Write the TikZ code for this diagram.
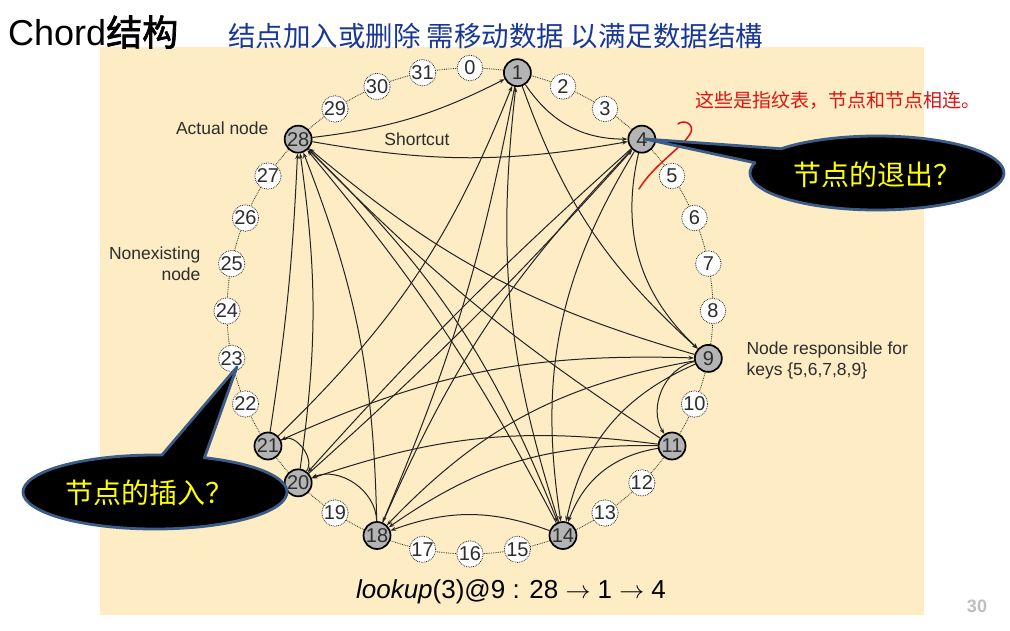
\documentclass[tikz,border=0pt]{standalone}
\usepackage{fontspec}
\setmainfont{Liberation Sans}
\newfontfamily\cjk{Noto Sans CJK SC}
\newfontfamily\cjkb[FakeBold=2]{Noto Sans CJK SC}
\usetikzlibrary{arrows.meta,calc}
\definecolor{beige}{RGB}{253,236,196}
\definecolor{edgecol}{RGB}{35,35,35}
\definecolor{nodegray}{RGB}{180,180,180}
\definecolor{txtcol}{RGB}{45,45,45}
\definecolor{callborder}{RGB}{58,92,135}
\definecolor{callyellow}{RGB}{255,255,0}
\definecolor{handblue}{RGB}{25,55,150}
\definecolor{handred}{RGB}{220,20,20}
\definecolor{pagenum}{RGB}{190,190,190}
\tikzset{
  realnode/.style={circle, minimum size=27pt, inner sep=0pt, fill=nodegray, draw=black, line width=1.7pt, text=txtcol, font=\fontsize{20}{20}\selectfont},
  ghostnode/.style={circle, minimum size=25.5pt, inner sep=0pt, fill=white, draw=txtcol, densely dotted, line width=0.8pt, text=txtcol, font=\fontsize{20}{20}\selectfont},
  ring/.style={draw=txtcol, densely dotted, line width=0.8pt},
  edge/.style={draw=edgecol, line width=1pt, -{Stealth[length=5.5pt,width=4pt]}},
  lbl/.style={text=txtcol, font=\fontsize{17.5}{21}\selectfont},
  callout/.style={fill=black, draw=callborder, line width=2.8pt, line join=round},
  calltext/.style={text=callyellow, font=\cjk\fontsize{28}{28}\selectfont}
}
\begin{document}
\begin{tikzpicture}[x=1pt,y=1pt]
\useasboundingbox (-470,-319) rectangle (540,311);
\fill[white] (-470,-319) rectangle (540,311);
\fill[beige] (-370,264) rectangle (454,-304);
% ring
\draw[ring] (0,0) circle[radius=243];
\foreach \k in {0,2,3,5,6,7,8,10,12,13,15,16,17,19,22,23,24,25,26,27,29,30,31}
  \node[ghostnode] (n\k) at ({90-11.25*\k}:243) {\k};
\foreach \k in {1,4,9,11,14,18,20,21,28}
  \node[realnode] (n\k) at ({90-11.25*\k}:243) {\k};
% finger edges (bend towards the centre of the ring)
\foreach \a/\b/\c in {1/4/28, 1/9/14, 1/18/-6,
  4/9/30, 4/14/20, 4/20/3,
  9/11/55, 9/14/27, 9/18/18, 9/28/-12,
  11/14/30, 11/18/18, 11/20/13, 11/28/-6,
  14/18/20, 14/28/6, 14/1/-12,
  18/20/55, 18/28/10, 18/4/-10,
  20/21/75, 20/28/8, 20/4/3,
  21/28/3, 21/1/12, 21/9/-13,
  28/1/10, 28/4/10, 28/14/-12}
  \draw[edge] (n\a) to[bend right=\c] (n\b);
% labels
\node[lbl, anchor=east] (lact) at (-198,183) {Actual node};
\node[lbl] (lshort) at (-53,172) {Shortcut};
\node[lbl, anchor=east, align=right] (lnon) at (-266,47) {Nonexisting\\node};
\node[lbl, anchor=west, align=left] (lresp) at (273,-49) {Node responsible for\\keys \{5,6,7,8,9\}};
\node[text=black] (llook) at (41,-281) {\fontsize{26}{26}\selectfont\textit{lookup}(3)@9 : 28 $\rightarrow$ 1 $\rightarrow$ 4};
% title and handwriting
\node[anchor=west, inner sep=0pt] (title) at (-462,279) {\fontsize{36}{36}\selectfont Chord{\cjkb 结构}};
\node[anchor=west, inner sep=0pt, text=handblue] (hblue) at (-242,275) {\cjk\fontsize{27.5}{27.5}\selectfont 结点加入或删除 需移动数据 以满足数据结構};
\node[anchor=west, inner sep=0pt, text=handred] (hred) at (225,211) {\cjk\fontsize{19}{19}\selectfont 这些是指纹表，节点和节点相连。};
\draw[handred, line width=1.5pt, line cap=round] (169,122) .. controls (185,148) and (215,165) .. (221,179) .. controls (224,187) and (214,192) .. (208,187);
% callouts
\coordinate (tipR) at (175,172);
\draw[callout] (tipR) -- ($(407,138)+(139:127 and 37)$) arc[start angle=139, end angle=-196, x radius=127, y radius=37] -- cycle;
\node[calltext] (cR) at (407,136) {节点的退出？};
\coordinate (tipL) at (-233,-56);
\draw[callout] (tipL) -- ($(-315,-181)+(68:132 and 37)$) arc[start angle=68, end angle=-273, x radius=132, y radius=37] -- cycle;
\node[calltext] (cL) at (-320,-182) {节点的插入？};
% page number
\node[text=pagenum, font=\fontsize{18}{18}\selectfont\bfseries] (pg) at (507,-295) {30};
\end{tikzpicture}
\end{document}
